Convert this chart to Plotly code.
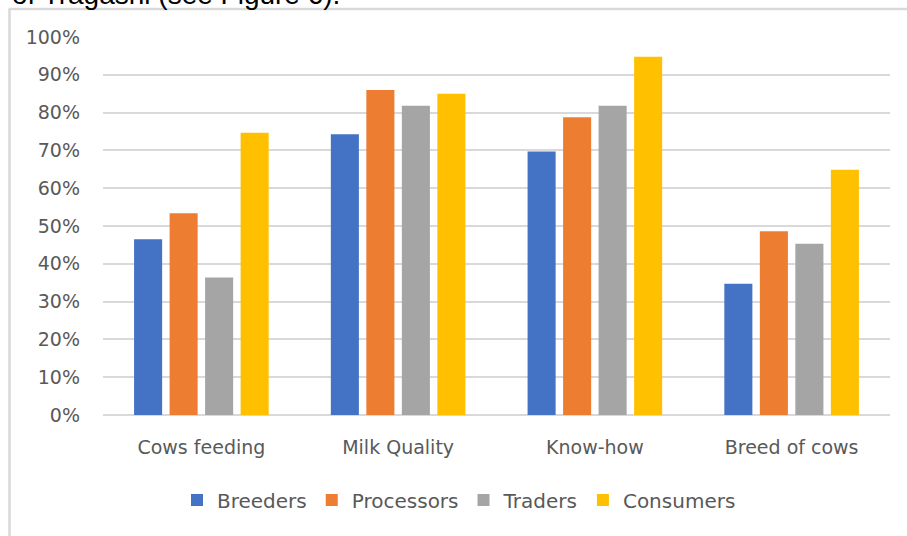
import plotly.graph_objects as go

categories = ["Cows feeding", "Milk Quality", "Know-how", "Breed of cows"]
series_names = ["Breeders", "Processors", "Traders", "Consumers"]
breeders = [46.5, 74.3, 69.7, 34.7]
processors = [53.4, 86.0, 78.8, 48.6]
traders = [36.4, 81.8, 81.8, 45.3]
consumers = [74.7, 85.0, 94.8, 64.9]
series_values = [breeders, processors, traders, consumers]
colors = ["#4472C4", "#ED7D31", "#A5A5A5", "#FFC000"]
y_ticks = list(range(0, 101, 10))
y_tick_labels = [f"{v}%" for v in y_ticks]

W, H = 907, 536
L, R, T, B = 103, 17, 37, 121
pw, ph = W - L - R, H - T - B

def px(x):
    return (x - L) / pw

def py(y):
    return (H - B - y) / ph

fig = go.Figure()
for name, vals, col in zip(series_names, series_values, colors):
    fig.add_trace(go.Bar(x=categories, y=vals, name=name,
                         marker=dict(color=col, line=dict(width=0))))

font_family = "DejaVu Sans, sans-serif"
fig.update_layout(
    width=W, height=H,
    margin=dict(l=L, r=R, t=T, b=B, pad=0),
    paper_bgcolor="white", plot_bgcolor="white",
    barmode="group", bargap=0.278, bargroupgap=0.21,
    font=dict(family=font_family, color="#595959", size=19),
    showlegend=True,
    legend=dict(orientation="h", x=px(177), xanchor="left",
                y=py(500), yanchor="middle",
                font=dict(size=20, color="#595959"),
                bgcolor="rgba(0,0,0,0)", traceorder="normal"),
    xaxis=dict(showgrid=False, showline=False, zeroline=False,
               ticks="", tickfont=dict(size=19, color="#595959"),
               ticklabelstandoff=19),
    yaxis=dict(range=[0, 100], tickvals=y_ticks, ticktext=y_tick_labels,
               showgrid=True, gridcolor="#D9D9D9", gridwidth=1.5,
               zeroline=True, zerolinecolor="#D9D9D9", zerolinewidth=1.5,
               showline=False, ticks="", ticklabelstandoff=22,
               tickfont=dict(size=19, color="#595959")),
    shapes=[
        dict(type="line", xref="paper", yref="paper",
             x0=px(9.5), x1=px(9.5), y0=py(9), y1=py(540),
             line=dict(color="#D9D9D9", width=2.5)),
        dict(type="line", xref="paper", yref="paper",
             x0=px(8.5), x1=px(910), y0=py(9), y1=py(9),
             line=dict(color="#D9D9D9", width=2.5)),
    ],
    annotations=[
        dict(text="of Tragashi (see Figure 6).", xref="paper", yref="paper",
             x=px(342), y=py(12), xanchor="right", yanchor="bottom",
             showarrow=False, font=dict(family="Liberation Sans, Arial", size=28, color="#000000")),
    ],
)

fig.write_html("out.html")
